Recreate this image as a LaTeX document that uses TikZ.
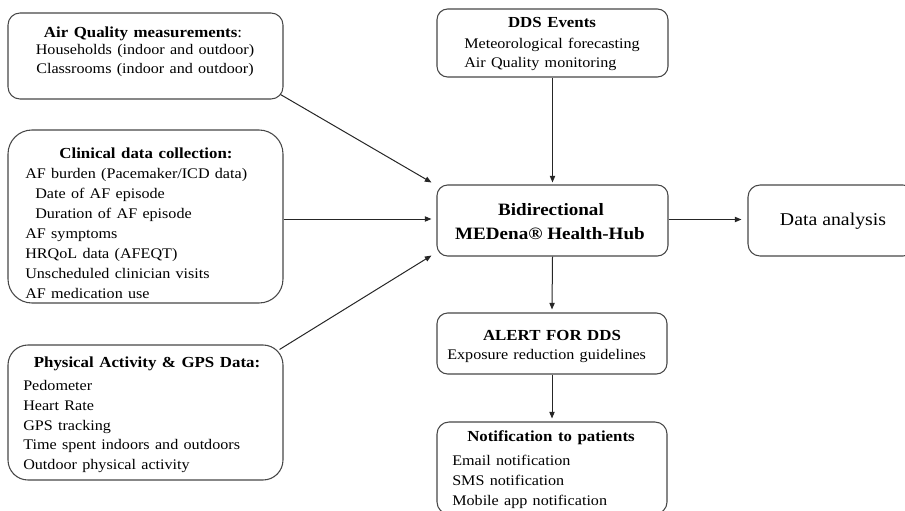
\documentclass[tikz,border=0pt]{standalone}
\usepackage{fontspec}
\setmainfont{Liberation Serif}[FakeStretch=1.1]
\usetikzlibrary{arrows.meta}
\newcommand\widesp{\spaceskip 0.36em\relax}
\begin{document}
\begin{tikzpicture}[x=0.75pt,y=-0.75pt,
  box/.style={draw=black!72, line width=0.8pt, inner sep=0pt},
  arr/.style={draw=black!85, line width=0.75pt, -{Triangle[length=5pt,width=4pt]}},
  t/.style={inner sep=0pt, font=\fontsize{11}{13}\selectfont\widesp},
  tl/.style={t, anchor=base west},
  tc/.style={t, anchor=base},
  ttl/.style={tc, font=\bfseries\fontsize{11.5}{14}\selectfont\widesp},
  big/.style={tc, font=\fontsize{13.5}{16}\selectfont}
]
\useasboundingbox (0,0) rectangle (905,510);
\clip (0,0) rectangle (905,510);

% boxes
\node[box, rounded corners=9pt,  minimum width=275*0.75pt, minimum height=86*0.75pt]  (A)    at (145.5,56) {};
\node[box, rounded corners=18pt, minimum width=275*0.75pt, minimum height=173*0.75pt] (B)    at (145.5,216.5) {};
\node[box, rounded corners=15pt, minimum width=275*0.75pt, minimum height=135*0.75pt] (C)    at (145.5,412.5) {};
\node[box, rounded corners=8pt,  minimum width=231*0.75pt, minimum height=68*0.75pt]  (DDS)  at (552.5,43) {};
\node[box, rounded corners=8pt,  minimum width=231*0.75pt, minimum height=71*0.75pt]  (hub)  at (552.5,220.5) {};
\node[box, rounded corners=9pt,  minimum width=167*0.75pt, minimum height=71*0.75pt]  (data) at (831.5,220.5) {};
\node[box, rounded corners=8pt,  minimum width=230*0.75pt, minimum height=61*0.75pt]  (alert) at (552,343.5) {};
\node[box, rounded corners=9pt,  minimum width=230*0.75pt, minimum height=92*0.75pt]  (notif) at (552,468) {};

% Air quality
\node[ttl] (a0) at (143,38) {Air Quality measurements\textmd{:}};
\node[tc] (a1) at (145,55) {Households (indoor and outdoor)};
\node[tc] (a2) at (145,74) {Classrooms (indoor and outdoor)};

% Clinical
\node[ttl] (b0) at (146,158) {Clinical data collection:};
\node[tl] (b1) at (25,178) {AF burden (Pacemaker/ICD data)};
\node[tl] (b2) at (35,198) {Date of AF episode};
\node[tl] (b3) at (35,218) {Duration of AF episode};
\node[tl] (b4) at (25,238) {AF symptoms};
\node[tl] (b5) at (25,258) {HRQoL data (AFEQT)};
\node[tl] (b6) at (25,278) {Unscheduled clinician visits};
\node[tl] (b7) at (25,298) {AF medication use};

% Physical
\node[ttl] (c0) at (147,367) {Physical Activity \& GPS Data:};
\node[tl] (c1) at (23,390) {Pedometer};
\node[tl] (c2) at (23,410) {Heart Rate};
\node[tl] (c3) at (23,430) {GPS tracking};
\node[tl] (c4) at (23,449) {Time spent indoors and outdoors};
\node[tl] (c5) at (23,469) {Outdoor physical activity};

% DDS events
\node[ttl] (d0) at (552,28) {DDS Events};
\node[tl] (d1) at (464,49) {Meteorological forecasting};
\node[tl] (d2) at (464,68) {Air Quality monitoring};

% Hub
\node[big, font=\bfseries\fontsize{13}{16}\selectfont] (h0) at (551,215) {Bidirectional};
\node[big, font=\bfseries\fontsize{13}{16}\selectfont] (h1) at (550,239) {MEDena® Health-Hub};

% Data analysis
\node[big] (e0) at (833,225) {Data analysis};

% Alert
\node[ttl] (f0) at (552,340) {ALERT FOR DDS};
\node[tl] (f1) at (447,359) {Exposure reduction guidelines};

% Notification
\node[ttl] (g0) at (551,441) {Notification to patients};
\node[tl] (g1) at (452,465) {Email notification};
\node[tl] (g2) at (452,485) {SMS notification};
\node[tl] (g3) at (452,505) {Mobile app notification};

% connectors
\draw[arr] ([shift={(-3,-5)}]A.south east) -- ([shift={(-5,-2)}]hub.north west);
\draw[arr] ([shift={(0,2.5)}]B.east) -- ([shift={(-5,-1.5)}]hub.west);
\draw[arr] ([shift={(-4,5)}]C.north east) -- ([shift={(-5,-1)}]hub.south west);
\draw[arr] (DDS.south) -- ([shift={(0,-2)}]hub.north);
\draw[arr] ([shift={(0,-1)}]hub.east) -- ([shift={(-6,-1)}]data.west);
\draw[arr] (hub.south) -- ([shift={(0,-3)}]alert.north);
\draw[arr] (alert.south) -- ([shift={(0,-3)}]notif.north);
\end{tikzpicture}
\end{document}
